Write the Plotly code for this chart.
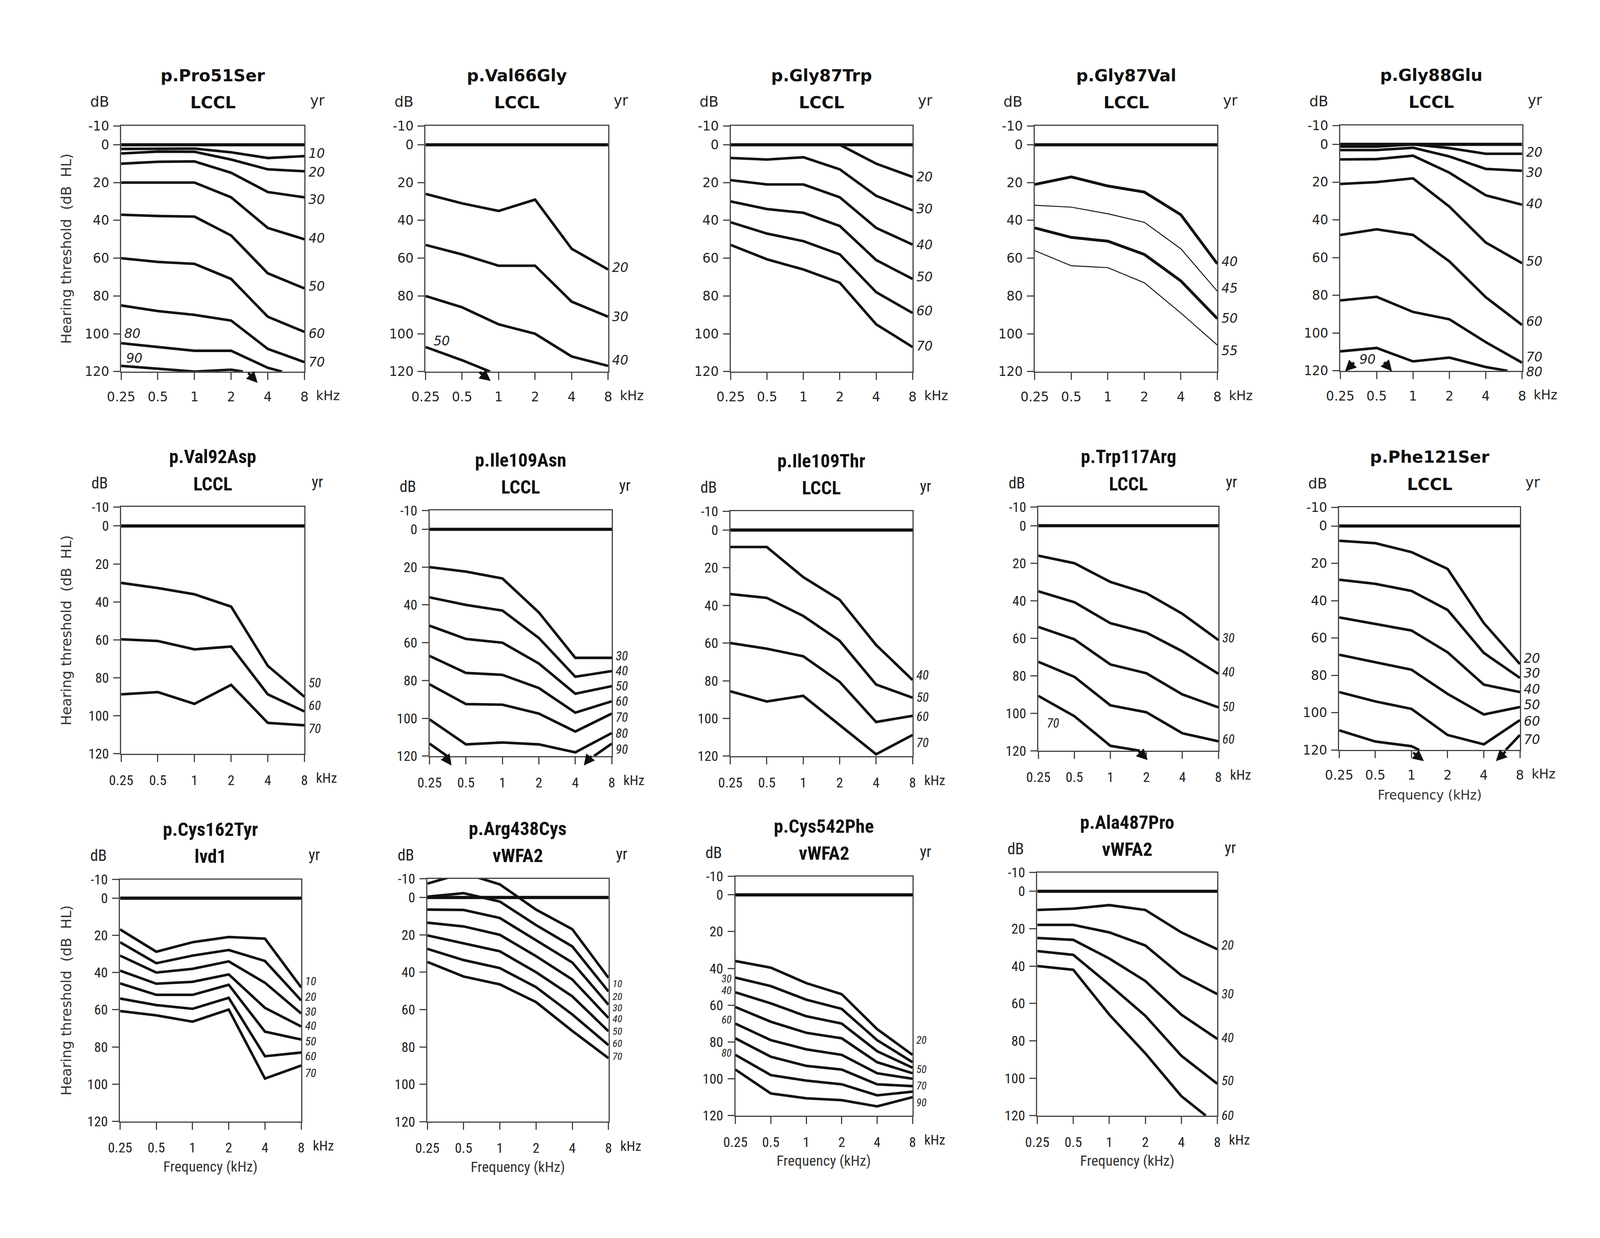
import math
import plotly.graph_objects as go

# ---------------- DATA ----------------
FREQ = [0.25, 0.5, 1, 2, 4, 8]
FREQ_TEXT = ["0.25", "0.5", "1", "2", "4", "8"]
DB_TICKS = [-10, 0, 20, 40, 60, 80, 100, 120]
DB_TEXT = ["-10", "0", "20", "40", "60", "80", "100", "120"]
NORMAL_DB = [0, 0, 0, 0, 0, 0]

TITLES = [
    ("p.Pro51Ser", "LCCL"), ("p.Val66Gly", "LCCL"), ("p.Gly87Trp", "LCCL"),
    ("p.Gly87Val", "LCCL"), ("p.Gly88Glu", "LCCL"), ("p.Val92Asp", "LCCL"),
    ("p.Ile109Asn", "LCCL"), ("p.Ile109Thr", "LCCL"), ("p.Trp117Arg", "LCCL"),
    ("p.Phe121Ser", "LCCL"), ("p.Cys162Tyr", "lvd1"), ("p.Arg438Cys", "vWFA2"),
    ("p.Cys542Phe", "vWFA2"), ("p.Ala487Pro", "vWFA2"),
]

PRO51SER_AGES = ["10", "20", "30", "40", "50", "60", "70", "80", "90"]
PRO51SER_FREQ = [FREQ] * 7 + [[0.25, 0.5, 1, 2, 4, 5.24], [0.25, 1, 2, 2.5]]
PRO51SER_DB = [
    [2.2, 2, 2, 4, 7, 6],
    [4.6, 3.6, 3.7, 7.8, 13, 14],
    [10, 9, 8.8, 14.8, 25, 27.8],
    [20, 20, 20, 27.8, 44, 50],
    [37, 37.7, 38, 48, 68, 76],
    [60, 62, 63, 71, 91, 99],
    [85, 88, 90, 93, 108, 115],
    [105, 107, 109, 109, 118, 120],
    [117, 120, 119, 120],
]

VAL66GLY_AGES = ["20", "30", "40", "50"]
VAL66GLY_FREQ = [FREQ] * 3 + [[0.25, 0.5, 0.85]]
VAL66GLY_DB = [
    [26, 31, 35, 29, 55, 66],
    [53, 58, 64, 64, 83, 91],
    [80, 86, 95, 100, 112, 117],
    [107, 114, 120],
]

GLY87TRP_AGES = ["20", "30", "40", "50", "60", "70"]
GLY87TRP_FREQ = [[2, 4, 8]] + [FREQ] * 5
GLY87TRP_DB = [
    [0, 10, 17],
    [7, 7.8, 6.6, 13, 27, 34.7],
    [18.7, 21, 21, 27.8, 44, 52.8],
    [30, 34, 36, 43, 61, 71],
    [41, 47, 51, 58, 78, 89],
    [53, 60.6, 66, 73, 95, 107],
]

GLY87VAL_AGES = ["40", "45", "50", "55"]
GLY87VAL_FREQ = [FREQ] * 4
GLY87VAL_DB = [
    [21, 17, 21.8, 25, 37, 63],
    [32, 33, 36.5, 41, 55, 77.5],
    [44, 49, 51, 58, 72, 92],
    [56, 64, 65, 73, 89, 106],
]

GLY88GLU_AGES = ["20", "30", "40", "50", "60", "70", "80"]
GLY88GLU_FREQ = [FREQ] * 6 + [[0.25, 0.5, 1, 2, 4, 6.06]]
GLY88GLU_DB = [
    [1.2, 1.2, 0, 2, 5, 5],
    [3, 3, 1.8, 6.4, 13, 14],
    [8, 7.8, 6, 15, 27, 32],
    [21, 20, 18, 33, 52, 63],
    [48, 45, 48, 62, 81, 95.7],
    [82.7, 80.8, 88.8, 92.7, 104.8, 115.7],
    [109.7, 107.9, 115, 113, 118, 120],
]

VAL92ASP_AGES = ["50", "60", "70"]
VAL92ASP_FREQ = [FREQ] * 3
VAL92ASP_DB = [
    [30, 32.7, 36, 42.5, 73.7, 90],
    [59.7, 60.6, 65, 63.5, 88.7, 97.7],
    [88.7, 87.5, 93.7, 83.7, 103.7, 105],
]

ILE109ASN_AGES = ["30", "40", "50", "60", "70", "80", "90"]
ILE109ASN_FREQ = [FREQ] * 6 + [[0.25, 0.35, None, 5.7, 8]]
ILE109ASN_DB = [
    [20, 22.4, 26, 44, 68, 68],
    [36, 40, 43, 57.5, 78, 75],
    [51, 58, 60, 71, 87, 83],
    [67, 76, 77, 84, 97, 91],
    [82, 92.5, 92.8, 97.5, 107, 97.5],
    [100.6, 113.8, 112.8, 113.8, 118, 107.8],
    [113.4, 120, None, 120, 113.4],
]

ILE109THR_AGES = ["40", "50", "60", "70"]
ILE109THR_FREQ = [FREQ] * 4
ILE109THR_DB = [
    [9, 9, 25, 37, 61, 79.6],
    [34, 36, 45.6, 58.8, 82, 89],
    [60, 63, 67, 80.6, 101.9, 98.6],
    [85.6, 91, 88, 103.6, 119, 108.8],
]

TRP117ARG_AGES = ["30", "40", "50", "60", "70"]
TRP117ARG_FREQ = [FREQ] * 4 + [[0.25, 0.5, 1, 1.76]]
TRP117ARG_DB = [
    [16, 20, 30, 36, 47, 61],
    [35, 40.8, 52, 57, 67, 79],
    [54, 60.6, 74, 78.7, 90, 96.9],
    [72.6, 80.6, 95.8, 99.5, 110.7, 115],
    [90.8, 101.6, 117.4, 120],
]

PHE121SER_AGES = ["20", "30", "40", "50", "60", "70"]
PHE121SER_FREQ = [FREQ] * 5 + [[0.25, 0.5, 1, 1.16, None, 6.1, 8]]
PHE121SER_DB = [
    [7.9, 9.2, 14, 23, 52, 74],
    [28.8, 31, 34.8, 45, 68, 81.4],
    [49, 52.4, 56, 67.7, 85, 89],
    [69, 73, 77, 90, 101, 97],
    [89, 94, 98, 112, 117, 104],
    [109.5, 115.5, 118, 120, None, 120, 112],
]

CYS162TYR_AGES = ["10", "20", "30", "40", "50", "60", "70"]
CYS162TYR_FREQ = [FREQ] * 7
CYS162TYR_DB = [
    [16.8, 28.8, 23.7, 20.9, 21.8, 48],
    [23.7, 35, 30.9, 27.9, 33.8, 55],
    [30.9, 40, 38, 34, 45.5, 62],
    [39, 46, 45, 41, 59, 69],
    [45.8, 52, 52, 46.6, 71.8, 76],
    [54, 57.5, 59.5, 53.6, 85, 83],
    [60.7, 63, 66.4, 59.9, 97, 90],
]

ARG438CYS_AGES = ["10", "20", "30", "40", "50", "60", "70"]
ARG438CYS_FREQ = [FREQ] * 7
ARG438CYS_DB = [
    [-7.4, -13, -7, 6.5, 17, 43],
    [-0.4, -2.3, 2.2, 14.8, 26.2, 50.3],
    [6.5, 6.7, 11, 22.8, 34.8, 57.4],
    [13.5, 15.5, 20, 31.4, 43.9, 64.5],
    [20.3, 24.5, 28.8, 40, 52.9, 71.6],
    [27.5, 33.5, 37.8, 48, 62.6, 79],
    [34.5, 42.3, 46.5, 56, 71.4, 86],
]

CYS542PHE_AGES = ["20", "30", "40", "50", "60", "70", "80", "90"]
CYS542PHE_FREQ = [FREQ] * 8
CYS542PHE_DB = [
    [36, 39.6, 48, 54, 73, 87],
    [45, 49.6, 57, 62, 79, 91],
    [53, 59, 66, 70, 85, 94],
    [61, 69, 75, 78, 91, 97],
    [70, 79, 84, 87, 97, 100],
    [78, 88, 93, 95, 103, 104],
    [87, 98, 101, 103, 109, 107],
    [95, 108, 110.6, 111.6, 115, 110],
]

ALA487PRO_AGES = ["20", "30", "40", "50", "60"]
ALA487PRO_FREQ = [FREQ] * 4 + [[0.25, 0.5, 1, 2, 4, 6.4]]
ALA487PRO_DB = [
    [10, 9.3, 7.4, 10, 22, 31],
    [18, 18, 22, 29, 45, 55],
    [25, 26, 36, 48, 66, 79],
    [32, 34, 50, 66.6, 88, 103],
    [40, 42, 66, 86.7, 109.6, 120],
]

# ---------------- LAYOUT ----------------
# Reference positions below are in reference-photo pixels (4368 x 3168).
# The photographed page area is about 4090 x 3170 CSS px, with an 8 px body margin.
REF_W, REF_H = 4368, 3168
VIEW_W, VIEW_H = 4090, 3170
MARGIN = 8
SX = VIEW_W / REF_W
SY = VIEW_H / REF_H
SF = 0.965  # font / stroke scale
W = VIEW_W - 2 * MARGIN - 4
H = VIEW_H - 2 * MARGIN - 4

WIDE = "DejaVu Sans, Verdana, sans-serif"
NARROW = "Liberation Sans Narrow, Arial Narrow, Roboto Condensed, Roboto, sans-serif"
INK = "#111111"
FRAME = "#444444"

PANELS = [
    dict(ages=PRO51SER_AGES, freq=PRO51SER_FREQ, db=PRO51SER_DB, box=(295, 802, 305, 942), font=WIDE,
         right=[4.6, 14.5, 29, 49.5, 75, 100, 115], inside=[("80", 0.31, 100), ("90", 0.32, 113)],
         arrows=[(3.3, 126, -27, -27)], ytitle=True),
    dict(ages=VAL66GLY_AGES, freq=VAL66GLY_FREQ, db=VAL66GLY_DB, box=(1137, 1642, 305, 942), font=WIDE,
         right=[65, 91, 114], inside=[("50", 0.34, 104)], arrows=[(0.86, 125, -32, -24)]),
    dict(ages=GLY87TRP_AGES, freq=GLY87TRP_FREQ, db=GLY87TRP_DB, box=(1981, 2484, 305, 942), font=WIDE,
         right=[17, 34, 53, 70, 88, 106.6]),
    dict(ages=GLY87VAL_AGES, freq=GLY87VAL_FREQ, db=GLY87VAL_DB, box=(2822, 3327, 305, 942), font=WIDE,
         right=[62, 76, 92, 109], widths=[7.5, 2.5, 7.5, 2.5]),
    dict(ages=GLY88GLU_AGES, freq=GLY88GLU_FREQ, db=GLY88GLU_DB, box=(3667, 4170, 304, 940), font=WIDE,
         right=[4.2, 15, 31.5, 62, 94, 112.7, 120.6], inside=[("90", 0.42, 114)],
         arrows=[(0.274, 120.3, 26, -24), (0.67, 120.3, -23, -25)]),
    dict(ages=VAL92ASP_AGES, freq=VAL92ASP_FREQ, db=VAL92ASP_DB, box=(295, 802, 1293, 1933), font=NARROW,
         right=[82.7, 94.6, 106.9], ytitle=True),
    dict(ages=ILE109ASN_AGES, freq=ILE109ASN_FREQ, db=ILE109ASN_DB, box=(1148, 1652, 1302, 1939), font=NARROW,
         right=[67, 75, 83, 91, 99.6, 108, 116.5],
         arrows=[(0.38, 125, -20, -26), (4.7, 125, 22, -26)]),
    dict(ages=ILE109THR_AGES, freq=ILE109THR_FREQ, db=ILE109THR_DB, box=(1980, 2484, 1304, 1939), font=NARROW,
         right=[77, 89, 99, 113]),
    dict(ages=TRP117ARG_AGES, freq=TRP117ARG_FREQ, db=TRP117ARG_DB, box=(2832, 3330, 1293, 1925), font=NARROW,
         right=[60, 78, 96.6, 114], inside=[("70", 0.33, 105.4)], arrows=[(2.05, 125, -27, -25)]),
    dict(ages=PHE121SER_AGES, freq=PHE121SER_FREQ, db=PHE121SER_DB, box=(3664, 4164, 1294, 1923), font=WIDE,
         right=[71, 79, 87.5, 96, 104.6, 114.6],
         arrows=[(1.27, 126, -31, -23), (5.04, 126, 28, -26)], xtitle=True),
    dict(ages=CYS162TYR_AGES, freq=CYS162TYR_FREQ, db=CYS162TYR_DB, box=(292, 793, 2259, 2886), font=NARROW,
         right=[44.5, 53, 61, 68.6, 77, 85, 94], ytitle=True, xtitle=True, labsize=31),
    dict(ages=ARG438CYS_AGES, freq=ARG438CYS_FREQ, db=ARG438CYS_DB, box=(1142, 1643, 2257, 2887), font=NARROW,
         right=[46, 53, 59, 65, 71.6, 78, 85], xtitle=True, labsize=27),
    dict(ages=CYS542PHE_AGES, freq=CYS542PHE_FREQ, db=CYS542PHE_DB, box=(1994, 2484, 2251, 2871), font=NARROW,
         right=[79, None, None, 95, None, 104, None, 113],
         left=[None, 45.8, 52, None, 68, None, 86, None], labsize=28, xtitle=True),
    dict(ages=ALA487PRO_AGES, freq=ALA487PRO_FREQ, db=ALA487PRO_DB, box=(2829, 3327, 2241, 2871), font=NARROW,
         right=[29, 55, 78.5, 101.5, 120], xtitle=True),
]


def cx_(rx):
    return rx * SX - MARGIN


def cy_(ry):
    return ry * SY - MARGIN


def ref_x(box, f):
    return box[0] + math.log2(f / 0.25) / 5.0 * (box[1] - box[0])


def ref_y(box, db):
    return box[2] + (db + 10) / 130.0 * (box[3] - box[2])


def paper(rx, ry):
    return cx_(rx) / W, 1 - cy_(ry) / H


def sz(v):
    return v * SF


fig = go.Figure()
annotations = []
layout = {}

for i, p in enumerate(PANELS):
    n = i + 1
    xa = "x" if n == 1 else f"x{n}"
    ya = "y" if n == 1 else f"y{n}"
    l, r, t, b = p["box"]
    font = p["font"]
    fig.add_trace(go.Scatter(x=FREQ, y=NORMAL_DB, mode="lines", xaxis=xa, yaxis=ya,
                             line=dict(color=INK, width=sz(8.5)), showlegend=False, hoverinfo="skip"))
    widths = p.get("widths") or [6.8] * len(p["db"])
    for fr, dbv, w in zip(p["freq"], p["db"], widths):
        fig.add_trace(go.Scatter(x=fr, y=dbv, mode="lines", xaxis=xa, yaxis=ya,
                                 line=dict(color=INK, width=sz(w)), connectgaps=False,
                                 showlegend=False, hoverinfo="skip"))

    tick_size = sz(34) if font == WIDE else sz(37)
    layout["xaxis" if n == 1 else f"xaxis{n}"] = dict(
        domain=[cx_(l) / W, cx_(r) / W], anchor=ya, type="log",
        range=[math.log10(0.25), math.log10(8)],
        tickmode="array", tickvals=FREQ, ticktext=FREQ_TEXT,
        ticks="outside", ticklen=18, tickwidth=3, tickcolor=FRAME,
        showline=True, linecolor=FRAME, linewidth=3, mirror=True,
        showgrid=False, zeroline=False, ticklabelstandoff=16,
        tickfont=dict(family=font, size=tick_size, color="#222"),
    )
    layout["yaxis" if n == 1 else f"yaxis{n}"] = dict(
        domain=[1 - cy_(b) / H, 1 - cy_(t) / H], anchor=xa,
        range=[120, -10], tickmode="array", tickvals=DB_TICKS, ticktext=DB_TEXT,
        ticks="outside", ticklen=17, tickwidth=3, tickcolor=FRAME,
        showline=True, linecolor=FRAME, linewidth=3, mirror=True,
        showgrid=False, zeroline=False, ticklabelstandoff=4,
        tickfont=dict(family=font, size=tick_size, color="#222"),
    )

    cxr = (l + r) / 2
    title_size = sz(44) if font == WIDE else sz(50)
    for txt, dy in ((TITLES[i][0], 130), (TITLES[i][1], 60)):
        x0, y0 = paper(cxr, t - dy)
        annotations.append(dict(x=x0, y=y0, xref="paper", yref="paper", text=f"<b>{txt}</b>",
                                showarrow=False, xanchor="center", yanchor="middle",
                                font=dict(family=font, size=title_size, color=INK)))
    unit_size = sz(38) if font == WIDE else sz(42)
    x0, y0 = paper(l - 60, t - 62)
    annotations.append(dict(x=x0, y=y0, xref="paper", yref="paper", text="dB", showarrow=False,
                            xanchor="center", yanchor="middle", font=dict(family=font, size=unit_size, color="#222")))
    x0, y0 = paper(r + 36, t - 65)
    annotations.append(dict(x=x0, y=y0, xref="paper", yref="paper", text="yr", showarrow=False,
                            xanchor="center", yanchor="middle", font=dict(family=font, size=unit_size, color="#222")))
    x0, y0 = paper(r + 30, b + 63)
    annotations.append(dict(x=x0, y=y0, xref="paper", yref="paper", text="kHz", showarrow=False,
                            xanchor="left", yanchor="middle", font=dict(family=font, size=tick_size, color="#222")))

    lab_size = sz(p.get("labsize", 34))
    for age, ly in zip(p["ages"], p["right"]):
        if ly is None:
            continue
        x0, y0 = paper(r + 9, ref_y(p["box"], ly))
        annotations.append(dict(x=x0, y=y0, xref="paper", yref="paper", text=f"<i>{age}</i>",
                                showarrow=False, xanchor="left", yanchor="middle",
                                font=dict(family=font, size=lab_size, color="#222")))
    for age, ly in zip(p["ages"], p.get("left", [None] * len(p["ages"]))):
        if ly is None:
            continue
        x0, y0 = paper(l - 8, ref_y(p["box"], ly))
        annotations.append(dict(x=x0, y=y0, xref="paper", yref="paper", text=f"<i>{age}</i>",
                                showarrow=False, xanchor="right", yanchor="middle",
                                font=dict(family=font, size=lab_size, color="#222")))
    for txt, fk, ly in p.get("inside", []):
        x0, y0 = paper(ref_x(p["box"], fk), ref_y(p["box"], ly))
        annotations.append(dict(x=x0, y=y0, xref="paper", yref="paper", text=f"<i>{txt}</i>",
                                showarrow=False, xanchor="center", yanchor="middle",
                                font=dict(family=font, size=lab_size, color="#222")))
    for fk, ly, ax, ay in p.get("arrows", []):
        x0, y0 = paper(ref_x(p["box"], fk), ref_y(p["box"], ly))
        annotations.append(dict(x=x0, y=y0, xref="paper", yref="paper", text="", showarrow=True,
                                ax=ax * SX, ay=ay * SY, arrowhead=2, arrowsize=0.9, arrowwidth=sz(6.5),
                                arrowcolor=INK, standoff=0))
    if p.get("ytitle"):
        x0, y0 = paper(143, (t + b) / 2)
        annotations.append(dict(x=x0, y=y0, xref="paper", yref="paper",
                                text="Hearing threshold  (dB  HL)", textangle=-90, showarrow=False,
                                xanchor="center", yanchor="middle",
                                font=dict(family=WIDE, size=sz(37), color="#333")))
    if p.get("xtitle"):
        x0, y0 = paper(cxr, b + 117)
        annotations.append(dict(x=x0, y=y0, xref="paper", yref="paper", text="Frequency (kHz)",
                                showarrow=False, xanchor="center", yanchor="middle",
                                font=dict(family=font, size=sz(34) if font == WIDE else sz(39), color="#333")))

fig.update_layout(width=W, height=H, margin=dict(l=0, r=0, t=0, b=0),
                  paper_bgcolor="white", plot_bgcolor="white",
                  annotations=annotations, **layout)

fig.write_html("out.html")
